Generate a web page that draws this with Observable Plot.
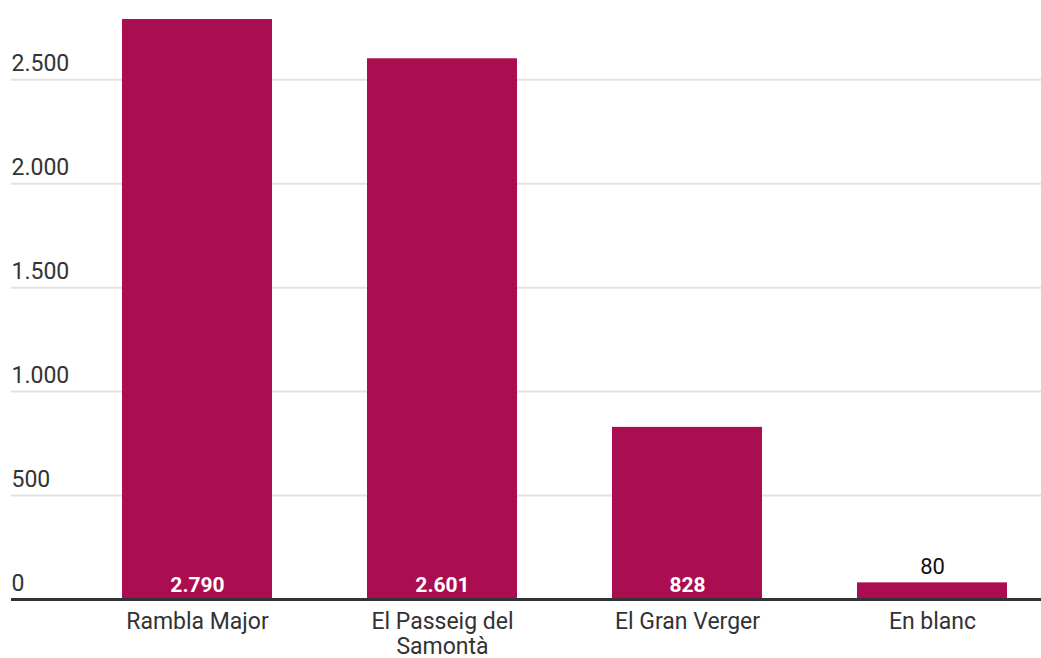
<!DOCTYPE html>
<html><head><meta charset="utf-8">
<script src="https://cdn.jsdelivr.net/npm/d3@7"></script>
<script src="https://cdn.jsdelivr.net/npm/@observablehq/plot@0.6"></script>
<style>body{margin:0;background:#fff;} svg{display:block}</style>
</head><body><div id="chart"></div>
<script>
const categories = ["Rambla Major", "El Passeig del Samontà", "El Gran Verger", "En blanc"];
const values = [2790, 2601, 828, 80];
const tickLabels = ["Rambla Major", "El Passeig del\nSamontà", "El Gran Verger", "En blanc"];
const yTicks = [0, 500, 1000, 1500, 2000, 2500];

const locale = d3.formatLocale({decimal: ",", thousands: ".", grouping: [3], currency: ["", "€"]});
const fmt = locale.format(",d");
const data = categories.map((c, i) => ({category: c, value: values[i]}));

const chart = Plot.plot({
  width: 1041, height: 658,
  marginTop: 19, marginBottom: 59, marginLeft: 11, marginRight: 0,
  style: {fontFamily: "Roboto, sans-serif", background: "#fff", overflow: "visible"},
  x: {domain: categories, range: [121, 1007], paddingInner: 0.388, paddingOuter: 0, label: null},
  y: {domain: [0, 2790], label: null},
  marks: [
    Plot.ruleY(yTicks.filter(t => t > 0), {stroke: "#e2e2e2", strokeWidth: 2}),
    Plot.barY(data, {x: "category", y: "value", fill: "#ab0e50"}),
    Plot.axisY(yTicks, {tickSize: 0, tickPadding: 0, textAnchor: "start", lineAnchor: "bottom", dy: -9, fontSize: 23, color: "#333", tickFormat: fmt, label: null}),
    Plot.axisX({tickSize: 0, tickPadding: 12, fontSize: 23, color: "#333", lineHeight: 1.08, tickFormat: c => tickLabels[categories.indexOf(c)], label: null}),
    Plot.text(data.filter(d => d.value >= 200), {x: "category", y: () => 0, text: d => fmt(d.value), dy: -8, lineAnchor: "bottom", fill: "white", fontWeight: "bold", fontSize: 21}),
    Plot.text(data.filter(d => d.value < 200), {x: "category", y: "value", text: d => fmt(d.value), dy: -9, lineAnchor: "bottom", fill: "#111", fontWeight: "normal", fontSize: 22}),
    Plot.ruleY([0], {stroke: "#333", strokeWidth: 3})
  ]
});
document.getElementById("chart").append(chart);
</script>
</body></html>
